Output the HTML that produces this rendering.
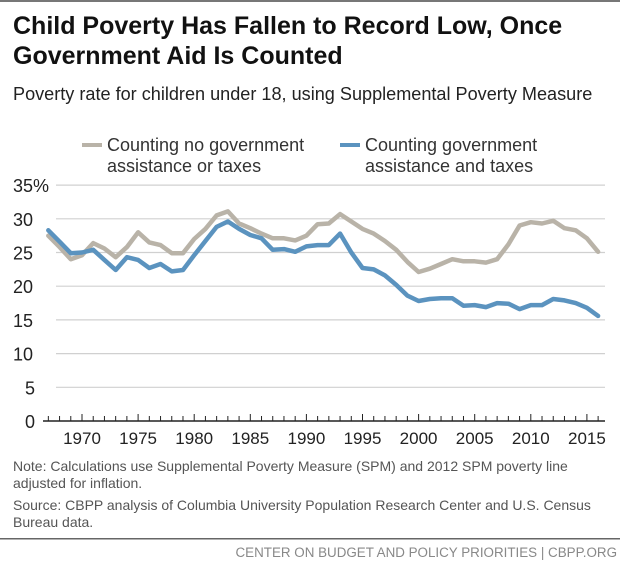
<!DOCTYPE html>
<html><head><meta charset="utf-8"><style>
body{margin:0;background:#fff;font-family:"Liberation Sans",sans-serif}
svg text{font-family:"Liberation Sans",sans-serif}
</style></head><body>
<svg width="620" height="568" viewBox="0 0 620 568">
<rect x="0" y="0" width="620" height="2" fill="#777"/>
<text x="13" y="34" font-size="25" font-weight="bold" fill="#111">Child Poverty Has Fallen to Record Low, Once</text>
<text x="13" y="64" font-size="25" font-weight="bold" fill="#111">Government Aid Is Counted</text>
<text x="13" y="100" font-size="18.1" fill="#222">Poverty rate for children under 18, using Supplemental Poverty Measure</text>
<rect x="82" y="143" width="20" height="4" fill="#b9b3a8"/>
<text x="107" y="151" font-size="18" fill="#333"><tspan x="107">Counting no government</tspan><tspan x="107" dy="21">assistance or taxes</tspan></text>
<rect x="340" y="143" width="20" height="4" fill="#5b93bf"/>
<text x="365" y="151" font-size="18" fill="#333"><tspan x="365">Counting government</tspan><tspan x="365" dy="21">assistance and taxes</tspan></text>
<g id="grid"></g><g id="axis"></g><g id="lines"></g>
<text x="13" y="471" font-size="14" fill="#555"><tspan x="13">Note: Calculations use Supplemental Poverty Measure (SPM) and 2012 SPM poverty line</tspan><tspan x="13" dy="17">adjusted for inflation.</tspan></text>
<text x="13" y="510" font-size="14" fill="#555"><tspan x="13">Source: CBPP analysis of Columbia University Population Research Center and U.S. Census</tspan><tspan x="13" dy="17">Bureau data.</tspan></text>
<rect x="0" y="538" width="620" height="1.5" fill="#666"/>
<text x="617" y="557" font-size="13.4" fill="#888" text-anchor="end">CENTER ON BUDGET AND POLICY PRIORITIES | CBPP.ORG</text>
</svg>
<script>
const years=[];for(let y=1967;y<=2016;y++)years.push(y);
const noAid=[27.5,25.8,24.0,24.6,26.4,25.6,24.3,25.8,28.0,26.5,26.1,24.9,24.9,27.0,28.5,30.5,31.1,29.3,28.6,27.8,27.1,27.1,26.8,27.5,29.2,29.3,30.7,29.6,28.5,27.8,26.7,25.4,23.6,22.1,22.6,23.3,24.0,23.7,23.7,23.5,24.0,26.2,29.0,29.5,29.3,29.7,28.6,28.3,27.1,25.1];
const withAid=[28.3,26.6,24.9,25.0,25.4,23.9,22.4,24.3,23.9,22.7,23.3,22.2,22.4,24.6,26.7,28.8,29.6,28.5,27.6,27.1,25.4,25.5,25.1,25.9,26.1,26.1,27.8,25.0,22.7,22.5,21.6,20.2,18.6,17.8,18.1,18.2,18.2,17.1,17.2,16.9,17.5,17.4,16.6,17.2,17.2,18.1,17.9,17.5,16.8,15.6];
const yTicks=[0,5,10,15,20,25,30,35];
const yTickLabels=["0","5","10","15","20","25","30","35%"];
const xTicks=[1970,1975,1980,1985,1990,1995,2000,2005,2010,2015];
const NS="http://www.w3.org/2000/svg";
const X=y=>82+(y-1970)*11.22;
const Y=v=>421-v*6.74;
function mk(tag,attrs,parent,txt){const e=document.createElementNS(NS,tag);for(const k in attrs)e.setAttribute(k,attrs[k]);if(txt!=null)e.textContent=txt;document.getElementById(parent).appendChild(e);return e;}
yTicks.forEach((t,i)=>{
 if(t>0){const l=mk('line',{x1:56,x2:605,y1:Y(t),y2:Y(t),stroke:'#d0d0d0','stroke-width':1.2},'grid');
 
 }
 const tx=mk('text',{x:t===35?13:(t>=10?13:25),y:Y(t)+7,'font-size':18,fill:'#222'},'grid',yTickLabels[i]);
 
 
});
const ax=mk('line',{x1:43,x2:605,y1:421,y2:421,stroke:'#222','stroke-width':1.5},'axis');


years.forEach(y=>{const major=y%5===0;const t=mk('line',{x1:X(y),x2:X(y),y1:major?414:416,y2:421,stroke:'#222','stroke-width':1},'axis');
 
 });
xTicks.forEach(y=>{const t=mk('text',{x:X(y),y:444,'font-size':17,fill:'#222','text-anchor':'middle'},'axis',String(y));
 
 });
function line(vals,color,name){const d=vals.map((v,i)=>(i?'L':'M')+X(years[i]).toFixed(1)+','+Y(v).toFixed(1)).join('');
 const p=mk('path',{d:d,fill:'none',stroke:color,'stroke-width':4.5,'stroke-linejoin':'round','stroke-linecap':'round'},'lines');
 
 }
line(noAid,'#b9b3a8','line-no-aid');
line(withAid,'#5b93bf','line-with-aid');
</script>
</body></html>
